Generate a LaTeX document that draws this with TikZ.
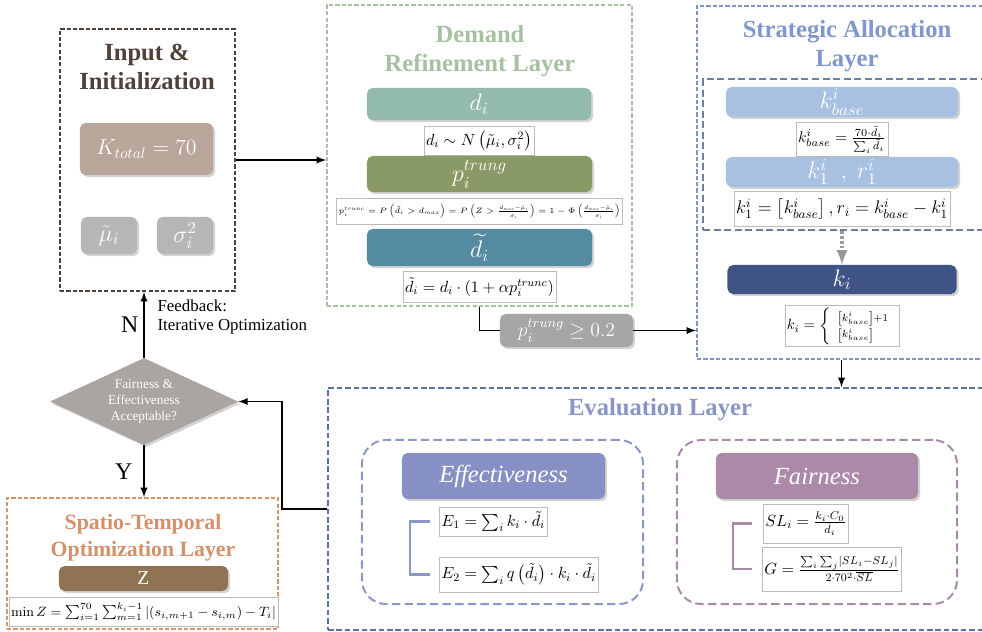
\RequirePackage{fix-cm}
\documentclass[tikz,border=0pt]{standalone}
\usepackage{amsmath}
\usepackage[no-math]{fontspec}
\setmainfont{Liberation Serif}
\usetikzlibrary{shapes.geometric, arrows, positioning, shadows}
\definecolor{inkbrown}{HTML}{4F4039}
\definecolor{ktotfill}{HTML}{BAA59A}
\definecolor{paramfill}{HTML}{B6B6B6}
\definecolor{demline}{HTML}{A7C2A3}
\definecolor{demtext}{HTML}{A5C19F}
\definecolor{difill}{HTML}{92BAAD}
\definecolor{ptfill}{HTML}{8A9A66}
\definecolor{dtfill}{HTML}{558BA0}
\definecolor{strline}{HTML}{8094C5}
\definecolor{strtext}{HTML}{7F96CE}
\definecolor{innerline}{HTML}{6D7FA3}
\definecolor{kfill}{HTML}{A8C0E1}
\definecolor{kifill}{HTML}{405385}
\definecolor{evaline}{HTML}{5A72A8}
\definecolor{evatext}{HTML}{8995C7}
\definecolor{effline}{HTML}{8B97C7}
\definecolor{efffill}{HTML}{8790C4}
\definecolor{fairline}{HTML}{A889A8}
\definecolor{fairfill}{HTML}{AC88A9}
\definecolor{decfill}{HTML}{A8A5A3}
\definecolor{thrfill}{HTML}{A6A6A6}
\definecolor{spaline}{HTML}{D4976C}
\definecolor{spatext}{HTML}{D49069}
\definecolor{zfill}{HTML}{8F7353}
\definecolor{formline}{HTML}{BBBBBB}
% formulas
\newcommand{\ptruncform}{$p_i^{trunc} = P\left(\tilde{d}_i > d_{max}\right) = P\left(Z > \frac{d_{max}-\hat{\mu}_i}{\sigma_i}\right) = 1-\Phi\left(\frac{d_{max}-\hat{\mu}_i}{\sigma_i}\right)$}
\newcommand{\kbaseform}{$k^i_{base} = \frac{70\cdot\tilde{d}_i}{\sum_i \tilde{d}_i}$}
\newcommand{\kfirstform}{$k^i_1 = \left[k^i_{base}\right], r_i = k^i_{base} - k^i_1$}
\newcommand{\kfinalform}{$k_i = \left\{\begin{array}{l}\scriptstyle\left[k^i_{base}\right]+1\\ \scriptstyle\left[k^i_{base}\right]\end{array}\right.$}
\newcommand{\ginform}{$G = \frac{\sum_i\sum_j\left|SL_i - SL_j\right|}{2\cdot 70^2\cdot\overline{SL}}$}
\newcommand{\minzform}{$\min Z = \sum_{i=1}^{70}\sum_{m=1}^{k_i-1}\left|\left(s_{i,m+1}-s_{i,m}\right)-T_i\right|$}
\tikzstyle{layer} = [rectangle, draw, line width=1.2pt, dash pattern=on 3pt off 1.5pt, inner sep=0pt]
\tikzstyle{heading} = [align=center, font=\bfseries\fontsize{17.5}{21}\selectfont]
\tikzstyle{block} = [rectangle, rounded corners=4pt, inner sep=0pt, text=white, font=\fontsize{17}{20}\selectfont, drop shadow={shadow xshift=1.5pt, shadow yshift=-1.5pt, opacity=0.35}]
\tikzstyle{formula} = [rectangle, draw=formline, fill=white, inner sep=1.5pt, font=\fontsize{11.5}{14}\selectfont]
\tikzstyle{group} = [rectangle, draw, rounded corners=0.6cm, line width=1.4pt, dash pattern=on 6pt off 3pt, minimum height=4.1cm]
\tikzstyle{bracketline} = [line width=2pt]
\tikzstyle{decision} = [diamond, aspect=2.16, minimum width=4.7cm, minimum height=2.175cm, inner sep=0pt, align=center, text=white, fill=decfill, font=\fontsize{9.5}{11.2}\selectfont, drop shadow={shadow xshift=1.5pt, shadow yshift=-1.5pt, opacity=0.35}]
\tikzstyle{cable} = [line width=1.3pt, ->, >=latex]
\tikzstyle{wire} = [line width=1.3pt]
\tikzstyle{dotline} = [line width=2.5pt, draw=gray!80, dash pattern=on 2pt off 1.5pt, ->, >=latex]

\begin{document}
\begin{tikzpicture}[x=0.025cm, y=-0.025cm]
  \useasboundingbox (0,0) rectangle (982,632);
  % Input
  \node (inp) [layer, draw=inkbrown, minimum width=4.375cm, minimum height=6.55cm] at (147.5,160) {};
  \node (inptitle) [heading, text=inkbrown] at (147,67) {Input \&\\Initialization};
  \node (ktot) [block, fill=ktotfill, minimum width=3.325cm, minimum height=1.3cm, font=\fontsize{15.5}{18}\selectfont] at (146.5,149) {$K_{total} = 70$};
  \node (mu) [block, fill=paramfill, minimum width=1.4cm, minimum height=0.925cm] at (109,235.5) {$\tilde{\mu}_i$};
  \node (sig) [block, fill=paramfill, minimum width=1.4cm, minimum height=0.925cm] at (185,235.5) {$\sigma_i^2$};
  % Demand refinement
  \node (dem) [layer, draw=demline, minimum width=7.625cm, minimum height=7.525cm] at (479.5,155.5) {};
  \node (demtitle) [heading, text=demtext] at (480,51) {Demand\\Refinement Layer};
  \node (di) [block, fill=difill, minimum width=5.6cm, minimum height=0.8cm] at (479,104) {$d_i$};
  \node (fdi) [formula, below=0.15cm of di, minimum height=0.725cm] {$d_i \sim N\left(\tilde{\mu}_i, \sigma_i^2\right)$};
  \node (ptrunc) [block, fill=ptfill, minimum width=5.625cm, minimum height=0.9cm] at (479.5,174) {$p_i^{trung}$};
  \node (fptrunc) [formula, below=0.15cm of ptrunc, minimum height=0.65cm, font=\fontsize{5.5}{7}\selectfont] {\ptruncform};
  \node (dt) [block, fill=dtfill, minimum width=5.625cm, minimum height=0.925cm] at (479.5,247.5) {$\widetilde{d}_i$};
  \node (fdt) [formula, below=0.125cm of dt, minimum height=0.775cm] {$\tilde{d}_i = d_i \cdot \left(1+\alpha p_i^{trunc}\right)$};
  \node (thr) [block, fill=thrfill, minimum width=3.325cm, minimum height=0.825cm, font=\fontsize{14}{16}\selectfont] at (566.5,330.5) {$p_i^{trung} \geq 0.2$};
  % Strategic allocation
  \node (str) [layer, draw=strline, minimum width=7.225cm, minimum height=8.825cm] at (841.5,182.5) {};
  \node (strtitle) [heading, text=strtext] at (847,46) {Strategic Allocation\\Layer};
  \node (inner) [layer, draw=innerline, dash pattern=on 5pt off 2.5pt, minimum width=7.075cm, minimum height=3.775cm] at (844.5,154.5) {};
  \node (kb) [block, fill=kfill, minimum width=5.8cm, minimum height=0.75cm] at (842,102) {$k^i_{base}$};
  \node (fkb) [formula, below=0.125cm of kb, minimum height=0.85cm, font=\fontsize{11}{13}\selectfont] {\kbaseform};
  \node (k1) [block, fill=kfill, minimum width=5.8cm, minimum height=0.75cm] at (842,172) {$k^i_1\ \ ,\ r^i_1$};
  \node (fk1) [formula, below=0.1cm of k1, minimum height=0.875cm, font=\fontsize{13}{16}\selectfont] {\kfirstform};
  \node (ki) [block, fill=kifill, minimum width=5.725cm, minimum height=0.725cm] at (842,279.5) {$k_i$};
  \node (fki) [formula, below=0.275cm of ki, minimum height=0.95cm, font=\fontsize{10.5}{12}\selectfont] {\kfinalform};
  % Evaluation
  \node (eva) [layer, draw=evaline, dash pattern=on 4pt off 2pt, minimum width=16.45cm, minimum height=6.05cm] at (657,509) {};
  \node (evatitle) [heading, text=evatext] at (660,410) {Evaluation Layer};
  \node (effgrp) [group, draw=effline, minimum width=7.025cm] at (502.5,522) {};
  \node (eff) [block, fill=efffill, minimum width=5.075cm, minimum height=1.15cm, font=\itshape\fontsize{17.5}{20}\selectfont] at (503.5,476) {Effectiveness};
  \node (e1) [formula, anchor=west, minimum height=0.725cm] at (439,521.5) {$E_1 = \sum_i k_i \cdot \tilde{d}_i$};
  \node (e2) [formula, anchor=west, minimum height=0.875cm] at (439,574.5) {$E_2 = \sum_i q\left(\tilde{d}_i\right) \cdot k_i \cdot \tilde{d}_i$};
  \draw [bracketline, draw=effline] ([xshift=-0.225cm]e1.west) -- ++(-20,0) |- ([xshift=-0.225cm]e2.west);
  \node (fairgrp) [group, draw=fairline, minimum width=7cm] at (817,522) {};
  \node (fair) [block, fill=fairfill, minimum width=5.05cm, minimum height=1.15cm, font=\itshape\fontsize{17.5}{20}\selectfont] at (817,476) {Fairness};
  \node (sl) [formula, anchor=west, minimum height=0.975cm] at (763,523.5) {$SL_i = \frac{k_i\cdot C_0}{\tilde{d}_i}$};
  \node (gini) [formula, anchor=west, minimum height=1.1cm] at (762,569) {\ginform};
  \draw [bracketline, draw=fairline] ([xshift=-0.275cm]sl.west) -- ++(-19,0) |- ([xshift=-0.25cm]gini.west);
  % Decision and spatio-temporal layer
  \node (dec) [decision] at (144,401.5) {Fairness \&\\Effectiveness\\Acceptable?};
  \node (spa) [layer, draw=spaline, minimum width=6.775cm, minimum height=3.275cm] at (142.5,563.5) {};
  \node (spatitle) [heading, text=spatext, font=\bfseries\fontsize{15.5}{19}\selectfont] at (143,538) {Spatio-Temporal\\Optimization Layer};
  \node (zb) [block, fill=zfill, minimum width=4.225cm, minimum height=0.625cm, font=\fontsize{14}{16}\selectfont] at (143.5,578.5) {Z};
  \node (fz) [formula, below=0.15cm of zb, minimum height=0.725cm, font=\fontsize{9.6}{12}\selectfont] {\minzform};
  % Connectors
  \draw [cable] (inp.east) -- (inp.east -| dem.west);
  \draw [wire] (dem.south) |- (thr.west);
  \draw [cable] (thr.east) -- (thr.east -| str.west);
  \draw [dotline] (inner.south -| ki.north) -- (ki.north);
  \draw [cable] (str.south) -- (str.south |- eva.north);
  \draw [cable] (eva.west) -- ++(-45,0) |- (dec.east);
  \draw [cable] (dec.north) -- node[left, font=\fontsize{17}{20}\selectfont] (lbln) {N} node[right, xshift=0.2cm, yshift=0.2cm, align=left, font=\fontsize{12}{13.5}\selectfont] (lblfb) {Feedback:\\Iterative Optimization} (dec.north |- inp.south);
  \draw [cable] (dec.south) -- node[left, xshift=-0.15cm, font=\fontsize{17}{20}\selectfont] (lbly) {Y} (dec.south |- spa.north);
\end{tikzpicture}
\end{document}
